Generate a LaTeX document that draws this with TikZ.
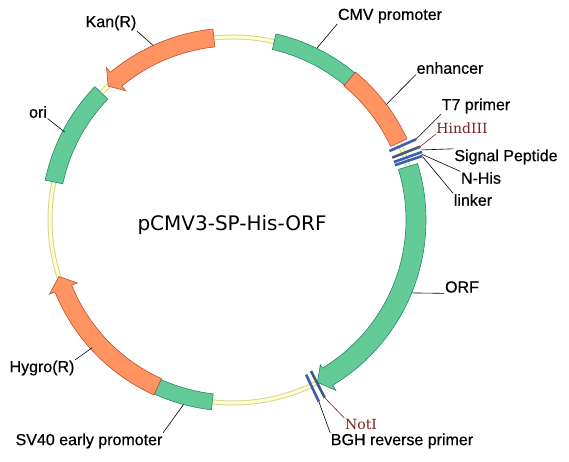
\documentclass[tikz,border=0pt]{standalone}
\usepackage{fontspec}
\setmainfont{Liberation Sans}
\newfontfamily\lblfont{Liberation Sans}[FakeBold=0.6]
\newfontfamily\titlefont{DejaVu Sans}
\newfontfamily\sitefont{DejaVu Serif}
\definecolor{featgreen}{RGB}{98,203,152}
\definecolor{featgreenline}{RGB}{40,135,100}
\definecolor{featorange}{RGB}{255,148,98}
\definecolor{featorangeline}{RGB}{185,80,50}
\definecolor{bbfill}{RGB}{255,255,205}
\definecolor{bbline}{RGB}{215,212,150}
\definecolor{barblue}{RGB}{60,95,175}
\definecolor{barslate}{RGB}{65,90,125}
\definecolor{sitered}{RGB}{125,30,30}
\begin{document}
\begin{tikzpicture}[x=1pt,y=1pt,
  greenf/.style={fill=featgreen, draw=featgreenline, line width=0.6pt},
  orangef/.style={fill=featorange, draw=featorangeline, line width=0.6pt},
  lbl/.style={inner sep=0.5pt, font=\lblfont\fontsize{16}{19}\selectfont},
  site/.style={inner sep=0.5pt, text=sitered, font=\sitefont\fontsize{14}{17}\selectfont},
  lead/.style={line width=0.6pt},
  bar/.style={line width=2.6pt}]
\useasboundingbox (0,0) rectangle (569,462);
\begin{scope}[shift={(233,242)}]
\draw[line width=5pt, bbline] (0,0) circle[radius=183pt];
\draw[line width=3pt, bbfill] (0,0) circle[radius=183pt];
\filldraw[greenf] (77:191) arc (77:50.4:191pt) -- (50.4:175) arc (50.4:77:175pt) -- cycle;
\filldraw[orangef] (50.4:192) arc (50.4:25:192pt) -- (25:174) arc (25:50.4:174pt) -- cycle;
\filldraw[greenf] (17:193) arc (17:-58.9:193pt) -- (-58.9:199) -- (-62.5:183) -- (-58.9:169) -- (-58.9:173) arc (-58.9:17:173pt) -- cycle;
\filldraw[greenf] (-96.5:191) arc (-96.5:-114.3:191pt) -- (-114.3:175) arc (-114.3:-96.5:175pt) -- cycle;
\filldraw[orangef] (-114.3:192) arc (-114.3:-158:192pt) -- (-158:198) -- (-162:183) -- (-158:168) -- (-158:174) arc (-158:-114.3:174pt) -- cycle;
\filldraw[greenf] (136:192) arc (136:168:192pt) -- (168:174) arc (168:136:174pt) -- cycle;
\filldraw[orangef] (96:192) arc (96:129.7:192pt) -- (129.7:198) -- (133:183) -- (129.7:168) -- (129.7:174) arc (129.7:96:174pt) -- cycle;
\draw[bar, barblue] (23.8:171) -- (23.8:200);
\draw[bar, barslate] (21.4:171) -- (21.4:201);
\draw[bar, barblue] (19.8:171) -- (19.8:201);
\draw[bar, barblue] (18.7:171) -- (18.7:200);
\draw[bar, barslate] (-62.7:170) -- (-62.7:200);
\draw[bar, barblue] (-64.7:171) -- (-64.7:201);
\coordinate (fid0) at (64:191);
\coordinate (fid1) at (37:192);
\coordinate (fid2) at (23.8:200);
\coordinate (fid3) at (21.4:201);
\coordinate (fid4) at (20.4:201);
\coordinate (fid5) at (19.2:200);
\coordinate (fid6) at (18.4:200);
\coordinate (fid7) at (-22.2:193);
\coordinate (fid8) at (-62.7:200);
\coordinate (fid9) at (-64.7:201);
\coordinate (fid10) at (-105:191);
\coordinate (fid11) at (-137.8:190);
\coordinate (fid12) at (152.4:190);
\coordinate (fid13) at (114.6:192);
\end{scope}
\node[lbl] (lab0) at (390,446) {CMV promoter};
\node[lbl] (lab1) at (450,394) {enhancer};
\node[lbl] (lab2) at (476,356) {T7 primer};
\node[site] (lab3) at (462,334) {HindIII};
\node[lbl] (lab4) at (506,305) {Signal Peptide};
\node[lbl] (lab5) at (481,284) {N-His};
\node[lbl] (lab6) at (473,262) {linker};
\node[lbl] (lab7) at (462,175) {ORF};
\node[site] (lab8) at (361,38) {NotI};
\node[lbl] (lab9) at (402,21) {BGH reverse primer};
\node[lbl] (lab10) at (89,21) {SV40 early promoter};
\node[lbl] (lab11) at (42,94) {Hygro(R)};
\node[lbl] (lab12) at (38,350) {ori};
\node[lbl] (lab13) at (111,439) {Kan(R)};
\node[inner sep=0pt, font=\titlefont\fontsize{20}{24}\selectfont] (name) at (232,237) {pCMV3-SP-His-ORF};
\draw[lead] (lab0.south west) -- (fid0);
\draw[lead] (lab1.south west) -- (fid1);
\draw[lead] (lab2.south west) -- (fid2);
\draw[lead, sitered] (lab3.south west) -- (fid3);
\draw[lead] (lab4.north west) -- (fid4);
\draw[lead] (lab5.north west) -- (fid5);
\draw[lead] (lab6.north west) -- (fid6);
\draw[lead] (lab7.south west) -- (fid7);
\draw[lead, sitered] (lab8.north west) -- (fid8);
\draw[lead] (lab9.north west) -- (fid9);
\draw[lead] (lab10.north east) -- (fid10);
\draw[lead] (lab11.north east) -- (fid11);
\draw[lead] (lab12.south east) -- (fid12);
\draw[lead] (lab13.south east) -- (fid13);
\end{tikzpicture}
\end{document}
